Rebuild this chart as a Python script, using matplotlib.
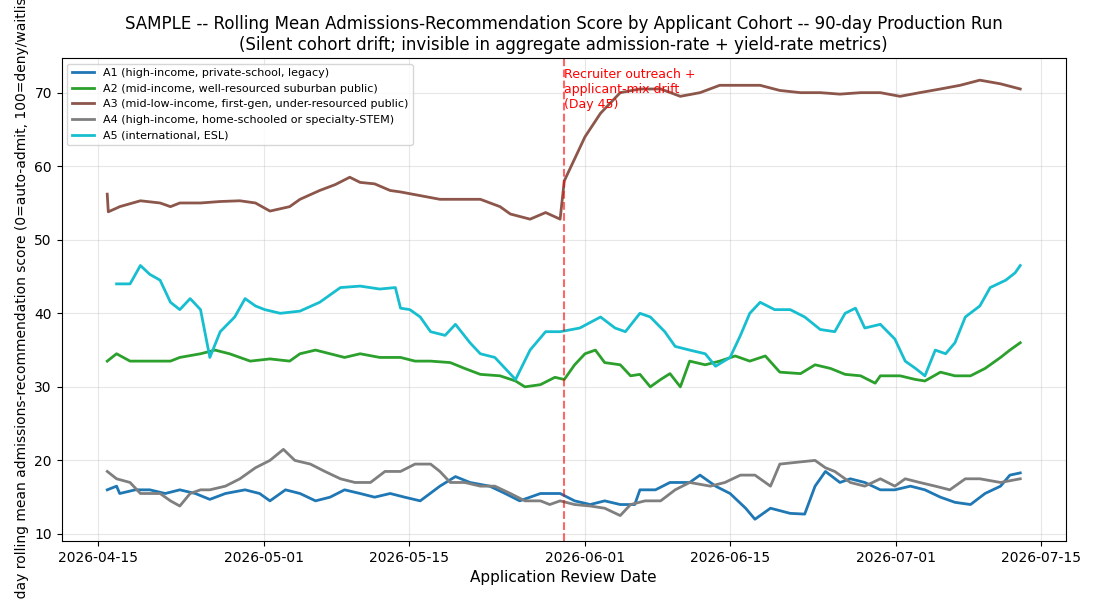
import numpy as np
import pandas as pd
import matplotlib
matplotlib.use("Agg")
import matplotlib.pyplot as plt

# run start; all day offsets below are days since this date
start = pd.Timestamp("2026-04-15")
drift_day = 45

labels = [
    "A1 (high-income, private-school, legacy)",
    "A2 (mid-income, well-resourced suburban public)",
    "A3 (mid-low-income, first-gen, under-resourced public)",
    "A4 (high-income, home-schooled or specialty-STEM)",
    "A5 (international, ESL)",
]
colors = ["tab:blue", "tab:green", "tab:brown", "tab:gray", "tab:cyan"]

# A1
a1_days = [0.9, 1.8, 2.1, 3.6, 5.0, 6.5, 7.9, 9.4, 10.8, 12.3, 14.2, 15.6, 16.6, 18.1, 19.5, 21.0,
           22.4, 23.8, 25.3, 26.7, 28.2, 29.6, 31.1, 33.0, 34.5, 35.9, 37.8, 39.3, 40.7, 42.7, 44.6,
           46.0, 47.5, 48.9, 50.4, 51.8, 52.3, 53.8, 55.2, 57.1, 58.1, 59.6, 61.0, 62.5, 63.4, 64.9,
           66.8, 68.2, 69.2, 70.2, 71.6, 72.6, 74.0, 75.5, 76.9, 78.4, 79.8, 81.3, 82.7, 84.2, 85.6,
           87.1, 88.0, 89.0]
a1_vals = [16.0, 16.5, 15.5, 16.0, 16.0, 15.5, 16.0, 15.5, 14.7, 15.5, 16.0, 15.5, 14.5, 16.0, 15.5, 14.5,
           15.0, 16.0, 15.5, 15.0, 15.5, 15.0, 14.5, 16.5, 17.8, 17.0, 16.5, 15.5, 14.5, 15.5, 15.5,
           14.5, 14.0, 14.5, 14.0, 14.0, 16.0, 16.0, 17.0, 17.0, 18.0, 16.5, 15.5, 13.5, 12.0, 13.5,
           12.8, 12.7, 16.5, 18.5, 17.0, 17.5, 17.0, 16.0, 16.0, 16.5, 16.0, 15.0, 14.3, 14.0, 15.5,
           16.5, 18.0, 18.3]

# A2
a2_days = [0.9, 1.8, 3.1, 5.0, 7.0, 7.9, 9.9, 11.3, 12.7, 14.7, 16.6, 18.5, 19.5, 21.0, 22.4, 23.8,
           25.3, 27.2, 29.2, 30.6, 32.1, 34.0, 35.4, 36.9, 38.8, 40.3, 41.2, 42.7, 44.1, 45.0, 46.0,
           47.0, 48.0, 48.9, 50.4, 51.4, 52.3, 53.3, 54.3, 55.2, 56.2, 57.1, 58.6, 60.0, 61.5, 62.9,
           64.4, 65.8, 67.8, 69.2, 70.7, 72.1, 73.6, 75.0, 75.5, 77.4, 78.9, 79.8, 81.3, 82.7, 84.2,
           85.6, 87.1, 88.0, 89.0]
a2_vals = [33.5, 34.5, 33.5, 33.5, 33.5, 34.0, 34.5, 35.0, 34.5, 33.5, 33.8, 33.5, 34.5, 35.0, 34.5, 34.0,
           34.5, 34.0, 34.0, 33.5, 33.5, 33.3, 32.5, 31.7, 31.5, 30.8, 30.0, 30.3, 31.3, 31.0, 33.0,
           34.5, 35.0, 33.3, 33.0, 31.5, 31.7, 30.0, 31.0, 31.8, 30.0, 33.5, 33.0, 33.5, 34.2, 33.5,
           34.2, 32.0, 31.8, 33.0, 32.5, 31.7, 31.5, 30.5, 31.5, 31.5, 31.0, 30.8, 32.0, 31.5, 31.5,
           32.5, 34.0, 35.0, 36.0]

# A3
a3_days = [0.9, 1.0, 1.8, 2.1, 4.1, 6.0, 7.0, 7.9, 9.9, 11.8, 13.7, 15.2, 16.6, 18.5, 19.5, 21.4, 22.9,
           24.3, 25.3, 26.7, 28.2, 29.2, 31.1, 33.0, 34.9, 36.9, 38.8, 39.8, 41.7, 43.2, 44.6, 45.0,
           46.0, 47.0, 48.5, 50.4, 52.3, 54.3, 56.2, 58.1, 60.0, 62.0, 63.9, 65.8, 67.8, 69.7, 71.6,
           73.6, 75.5, 77.4, 79.3, 81.3, 83.2, 85.1, 87.1, 89.0]
a3_vals = [56.2, 53.8, 54.3, 54.5, 55.3, 55.0, 54.5, 55.0, 55.0, 55.2, 55.3, 55.0, 53.9, 54.5, 55.5, 56.7, 57.5,
           58.5, 57.8, 57.6, 56.7, 56.5, 56.0, 55.5, 55.5, 55.5, 54.5, 53.5, 52.8, 53.7, 52.8, 58.0,
           61.0, 64.0, 67.2, 70.0, 70.5, 70.5, 69.5, 70.0, 71.0, 71.0, 71.0, 70.3, 70.0, 70.0, 69.8,
           70.0, 70.0, 69.5, 70.0, 70.5, 71.0, 71.7, 71.2, 70.5]

# A4
a4_days = [0.9, 1.8, 3.1, 4.1, 5.0, 6.0, 7.0, 7.9, 8.9, 9.9, 10.8, 12.3, 13.7, 15.2, 16.6, 17.9, 19.0,
           20.5, 21.9, 23.4, 24.8, 26.3, 27.7, 29.2, 30.6, 32.1, 33.0, 34.0, 35.4, 36.9, 38.3, 39.8,
           41.2, 42.7, 43.6, 44.6, 46.0, 47.5, 48.9, 50.4, 51.4, 52.8, 54.3, 55.7, 57.1, 59.1, 60.5,
           62.0, 63.4, 64.9, 65.8, 67.8, 69.2, 70.2, 71.1, 72.6, 74.0, 75.5, 76.9, 77.9, 79.3, 80.8,
           82.2, 83.7, 85.1, 87.1, 89.0]
a4_vals = [18.5, 17.5, 17.0, 15.5, 15.5, 15.5, 14.5, 13.8, 15.5, 16.0, 16.0, 16.5, 17.5, 19.0, 20.0, 21.5, 20.0,
           19.5, 18.5, 17.5, 17.0, 17.0, 18.5, 18.5, 19.5, 19.5, 18.5, 17.0, 17.0, 16.5, 16.5, 15.5,
           14.5, 14.5, 14.0, 14.5, 14.0, 13.8, 13.5, 12.5, 14.0, 14.5, 14.5, 16.0, 17.0, 16.5, 17.0,
           18.0, 18.0, 16.5, 19.5, 19.8, 20.0, 19.0, 18.5, 17.0, 16.5, 17.5, 16.5, 17.5, 17.0, 16.5,
           16.0, 17.5, 17.5, 17.0, 17.5]

# A5
a5_days = [1.8, 3.1, 4.1, 5.0, 6.0, 7.0, 7.9, 8.9, 9.9, 10.8, 11.8, 13.2, 14.2, 15.2, 16.1, 17.6, 19.5,
           21.4, 23.4, 25.3, 27.2, 28.7, 29.2, 30.1, 31.1, 32.1, 33.5, 34.5, 35.9, 36.9, 38.3, 39.3,
           40.3, 41.7, 43.2, 44.6, 46.5, 48.5, 49.9, 50.9, 52.3, 53.3, 54.7, 55.7, 57.1, 58.6, 59.6,
           61.0, 62.0, 62.9, 63.9, 65.3, 66.8, 68.2, 69.7, 71.1, 72.1, 73.1, 74.0, 75.5, 76.9, 77.9,
           78.9, 79.8, 80.8, 81.8, 82.7, 83.7, 85.1, 86.1, 87.6, 88.5, 89.0]
a5_vals = [44.0, 44.0, 46.5, 45.3, 44.5, 41.5, 40.5, 42.0, 40.5, 34.0, 37.5, 39.5, 42.0, 41.0, 40.5, 40.0, 40.3,
           41.5, 43.5, 43.7, 43.3, 43.5, 40.7, 40.5, 39.5, 37.5, 37.0, 38.5, 36.0, 34.5, 34.0, 32.5,
           31.0, 35.0, 37.5, 37.5, 38.0, 39.5, 38.0, 37.5, 40.0, 39.5, 37.5, 35.5, 35.0, 34.5, 32.8,
           34.0, 37.0, 40.0, 41.5, 40.5, 40.5, 39.5, 37.8, 37.5, 40.0, 40.7, 38.0, 38.5, 36.5, 33.5,
           32.5, 31.5, 35.0, 34.5, 36.0, 39.5, 41.0, 43.5, 44.5, 45.5, 46.5]

series_days = [a1_days, a2_days, a3_days, a4_days, a5_days]
series_vals = [a1_vals, a2_vals, a3_vals, a4_vals, a5_vals]

fig, ax = plt.subplots(figsize=(11, 6), dpi=100)
fig.subplots_adjust(left=0.056, right=0.969, top=0.903, bottom=0.098)

for days, vals, lab, col in zip(series_days, series_vals, labels, colors):
    dates = start + pd.to_timedelta(days, unit="D")
    ax.plot(dates, vals, color=col, lw=2, label=lab)

# drift marker
drift_date = start + pd.Timedelta(days=drift_day)
ax.axvline(drift_date, color="red", ls="--", lw=1.5, alpha=0.6)
ax.text(drift_date, 73.4, "Recruiter outreach +\napplicant-mix drift\n(Day 45)",
        color="red", fontsize=9, va="top", ha="left")

ax.set_title("SAMPLE -- Rolling Mean Admissions-Recommendation Score by Applicant Cohort -- 90-day Production Run\n"
             "(Silent cohort drift; invisible in aggregate admission-rate + yield-rate metrics)", fontsize=12)
ax.set_xlabel("Application Review Date", fontsize=11)
ax.set_ylabel("7-day rolling mean admissions-recommendation score (0=auto-admit, 100=deny/waitlist)", fontsize=10)
ax.grid(True, alpha=0.3)
ax.legend(loc="upper left", fontsize=8)

fig.savefig("out.png", dpi=100)
